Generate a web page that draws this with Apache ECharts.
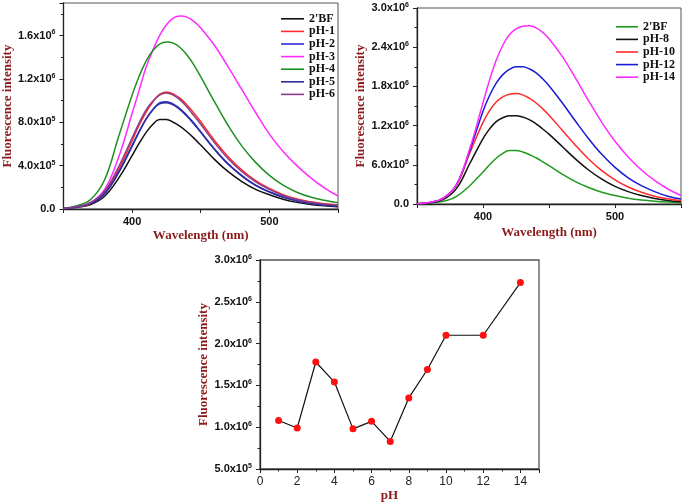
<!DOCTYPE html>
<html>
<head>
<meta charset="utf-8">
<script src="https://cdn.jsdelivr.net/npm/echarts@6/dist/echarts.min.js"></script>
<style>
html,body{margin:0;padding:0;background:#fff;}
#c{width:684px;height:504px;}
</style>
</head>
<body>
<div id="c"></div>
<script>
// Wavelength grid (nm)
const wavelengths = [350,360,370,380,390,400,405,410,415,420,425,430,435,440,445,450,460,470,480,490,500,510,520,530,540,550];

// Panel A (acidic) – intensities in units of 10^6
const namesA = ["2'BF","pH-1","pH-2","pH-3","pH-4","pH-5","pH-6"];
const bf_A  = [0.004,0.017,0.042,0.118,0.280,0.492,0.602,0.702,0.780,0.825,0.826,0.800,0.762,0.712,0.654,0.590,0.458,0.344,0.253,0.181,0.131,0.090,0.061,0.042,0.029,0.021];
const pH1   = [0.005,0.020,0.050,0.150,0.360,0.630,0.770,0.890,0.985,1.058,1.080,1.062,1.020,0.960,0.885,0.805,0.632,0.482,0.358,0.261,0.189,0.132,0.092,0.066,0.048,0.037];
const pH2   = [0.005,0.020,0.050,0.140,0.330,0.578,0.706,0.824,0.915,0.978,0.990,0.968,0.925,0.863,0.793,0.713,0.554,0.416,0.307,0.219,0.159,0.110,0.076,0.052,0.036,0.027];
const pH3   = [0.004,0.020,0.060,0.180,0.470,0.880,1.090,1.300,1.460,1.600,1.700,1.760,1.780,1.770,1.730,1.670,1.510,1.310,1.100,0.890,0.690,0.530,0.400,0.290,0.195,0.120];
const pH4   = [0.005,0.030,0.090,0.270,0.660,1.050,1.220,1.360,1.460,1.520,1.540,1.530,1.490,1.420,1.330,1.220,0.990,0.770,0.580,0.430,0.310,0.220,0.155,0.110,0.080,0.058];
const pH5   = [0.005,0.020,0.052,0.142,0.335,0.585,0.712,0.826,0.913,0.970,0.980,0.960,0.917,0.855,0.785,0.707,0.550,0.412,0.304,0.217,0.157,0.109,0.075,0.051,0.036,0.026];
const pH6   = [0.005,0.022,0.060,0.165,0.385,0.655,0.790,0.910,0.993,1.050,1.070,1.050,1.006,0.941,0.861,0.781,0.612,0.463,0.344,0.251,0.181,0.125,0.087,0.062,0.045,0.034];
const colorsA = ['#111111','#ff2a2a','#2b2bdc','#ff2bff','#1f8f1f','#2e2e9c','#8a3c8a'];

// Panel B (basic)
const namesB = ["2'BF","pH-8","pH-10","pH-12","pH-14"];
const bf_B  = [0.004,0.017,0.042,0.118,0.280,0.490,0.600,0.700,0.776,0.818,0.820,0.796,0.758,0.708,0.650,0.587,0.456,0.342,0.252,0.180,0.130,0.089,0.061,0.042,0.029,0.021];
const pH8   = [0.005,0.020,0.070,0.240,0.620,1.000,1.150,1.260,1.320,1.350,1.352,1.332,1.292,1.232,1.152,1.070,0.880,0.690,0.520,0.380,0.270,0.190,0.130,0.085,0.055,0.035];
const pH10  = [0.005,0.025,0.090,0.290,0.780,1.250,1.430,1.560,1.640,1.680,1.690,1.670,1.620,1.550,1.460,1.360,1.130,0.900,0.690,0.510,0.370,0.260,0.180,0.120,0.080,0.050];
const pH12  = [0.005,0.025,0.090,0.300,0.820,1.420,1.660,1.850,1.980,2.060,2.100,2.100,2.070,2.010,1.920,1.810,1.550,1.270,1.000,0.760,0.560,0.400,0.280,0.190,0.120,0.075];
const pH14  = [0.005,0.025,0.090,0.300,0.850,1.550,1.900,2.200,2.430,2.590,2.680,2.720,2.730,2.700,2.630,2.530,2.260,1.930,1.580,1.250,0.960,0.720,0.520,0.360,0.230,0.130];
const colorsB = ['#1f9a1f','#111111','#ff2a2a','#1a1ad6','#ff2bff'];

// Panel C: peak intensity vs pH
const pHvals = [1,2,3,4,5,6,7,8,9,10,12,14];
const peakVals = [1.08,0.99,1.78,1.54,0.98,1.07,0.83,1.35,1.69,2.10,2.10,2.73];

// Tick definitions
const yTicksA = {min:0, max:1.9e6, interval:0.4e6};
const yTicksB = {min:0, max:3.0e6, interval:0.6e6};
const yTicksC = {min:0.5e6, max:3.0e6, interval:0.5e6};

const SCALE = 1e6;
const seriesA = [bf_A,pH1,pH2,pH3,pH4,pH5,pH6];
const seriesB = [bf_B,pH8,pH10,pH12,pH14];

function sci(v){
  if (Math.abs(v) < 1) return '{m|0.0}';
  const e = Math.floor(Math.log10(v) + 1e-9);
  const m = v / Math.pow(10, e);
  return '{m|' + m.toFixed(1) + 'x10}{e|' + e + '}';
}
const richLab = {
  m:{fontSize:11, fontWeight:'bold', fontFamily:'Liberation Sans, Arial', color:'#111'},
  e:{fontSize:7, fontWeight:'bold', fontFamily:'Liberation Sans, Arial', color:'#111', verticalAlign:'top', padding:[0,0,6,0]}
};
const titleColor = '#8b1a1a';
const nameStyle = {fontFamily:'Liberation Serif, Times New Roman', fontWeight:'bold', fontSize:13, color:titleColor};
const axisLineS = {show:true, lineStyle:{color:'#222', width:1.3}};
const tickS = {show:true, inside:false, length:4, lineStyle:{color:'#222', width:1}};
const minorS = {show:true, splitNumber:2, length:2.5, lineStyle:{color:'#222', width:1}};
const xLab = {fontSize:11, fontWeight:'bold', fontFamily:'Liberation Sans, Arial', color:'#111', margin:7};

function yAxisFor(gi, t, gap){
  return {
    type:'value', gridIndex:gi, min:t.min, max:t.max, interval:t.interval,
    axisLine:axisLineS, axisTick:tickS, minorTick:minorS,
    splitLine:{show:false},
    axisLabel:{margin:8, rich:richLab, formatter:function(v){
      if (Math.abs((v - t.min) / t.interval - Math.round((v - t.min) / t.interval)) > 1e-6) return '';
      return sci(v);
    }},
    name:'Fluorescence intensity', nameLocation:'middle', nameGap:gap, nameTextStyle:nameStyle
  };
}

const series = [];
seriesA.forEach((arr, i) => {
  series.push({
    type:'line', name:namesA[i], xAxisIndex:0, yAxisIndex:0, smooth:0.4, symbol:'none',
    lineStyle:{color:colorsA[i], width:1.5}, itemStyle:{color:colorsA[i]},
    data: wavelengths.map((w, k) => [w, arr[k] * SCALE])
  });
});
seriesB.forEach((arr, i) => {
  series.push({
    type:'line', name:namesB[i], xAxisIndex:1, yAxisIndex:1, smooth:0.4, symbol:'none',
    lineStyle:{color:colorsB[i], width:1.5}, itemStyle:{color:colorsB[i]},
    data: wavelengths.map((w, k) => [w, arr[k] * SCALE])
  });
});
series.push({
  type:'line', name:'peak', xAxisIndex:2, yAxisIndex:2, symbol:'circle', symbolSize:7,
  lineStyle:{color:'#111', width:1.2}, itemStyle:{color:'#ff1010'},
  data: pHvals.map((p, k) => [p, peakVals[k] * SCALE])
});

const legendText = {fontFamily:'Liberation Serif, Times New Roman', fontWeight:'bold', fontSize:12, color:'#111', lineHeight:12.6};

const option = {
  animation:false,
  backgroundColor:'#fff',
  grid:[
    {left:61, top:3, width:277, height:206, show:true, borderColor:'#555', borderWidth:1},
    {left:417, top:8, width:264, height:196, show:true, borderColor:'#555', borderWidth:1},
    {left:260, top:260, width:279, height:209, show:true, borderColor:'#555', borderWidth:1.3}
  ],
  xAxis:[
    {type:'value', gridIndex:0, min:350, max:550, interval:50,
     axisLine:axisLineS, axisTick:tickS, splitLine:{show:false},
     axisLabel:Object.assign({}, xLab, {formatter:v => (v % 100 === 0 && v > 350 && v < 550) ? String(v) : ''}),
     name:'Wavelength (nm)', nameLocation:'middle', nameGap:20, nameTextStyle:nameStyle},
    {type:'value', gridIndex:1, min:350, max:550, interval:50,
     axisLine:axisLineS, axisTick:tickS, splitLine:{show:false},
     axisLabel:Object.assign({}, xLab, {formatter:v => (v % 100 === 0 && v > 350 && v < 550) ? String(v) : ''}),
     name:'Wavelength (nm)', nameLocation:'middle', nameGap:22, nameTextStyle:nameStyle},
    {type:'value', gridIndex:2, min:0, max:15, interval:2,
     axisLine:axisLineS, axisTick:tickS, minorTick:minorS, splitLine:{show:false},
     axisLabel:Object.assign({}, xLab, {fontWeight:'normal', fontSize:12, color:'#222', formatter:v => (v % 2 === 0 && v <= 14) ? String(v) : ''}),
     name:'pH', nameLocation:'middle', nameGap:19, nameTextStyle:Object.assign({}, nameStyle, {padding:[0,20,0,0]})}
  ],
  yAxis:[
    yAxisFor(0, yTicksA, 46),
    yAxisFor(1, yTicksB, 46),
    yAxisFor(2, yTicksC, 49)
  ],
  legend:[
    {orient:'vertical', left:276, top:7.5, itemWidth:23, itemHeight:1.6, itemGap:0, icon:'rect',
     textStyle:legendText, data:namesA},
    {orient:'vertical', left:611, top:15.5, itemWidth:22, itemHeight:1.6, itemGap:0, icon:'rect',
     textStyle:legendText,
     data:[{name:"2'BF", itemStyle:{color:colorsB[0]}, lineStyle:{color:colorsB[0]}}, 'pH-8','pH-10','pH-12','pH-14']}
  ],
  series:series
};

const chart = echarts.init(document.getElementById('c'), null, {renderer:'canvas'});
chart.setOption(option);
</script>
</body>
</html>
